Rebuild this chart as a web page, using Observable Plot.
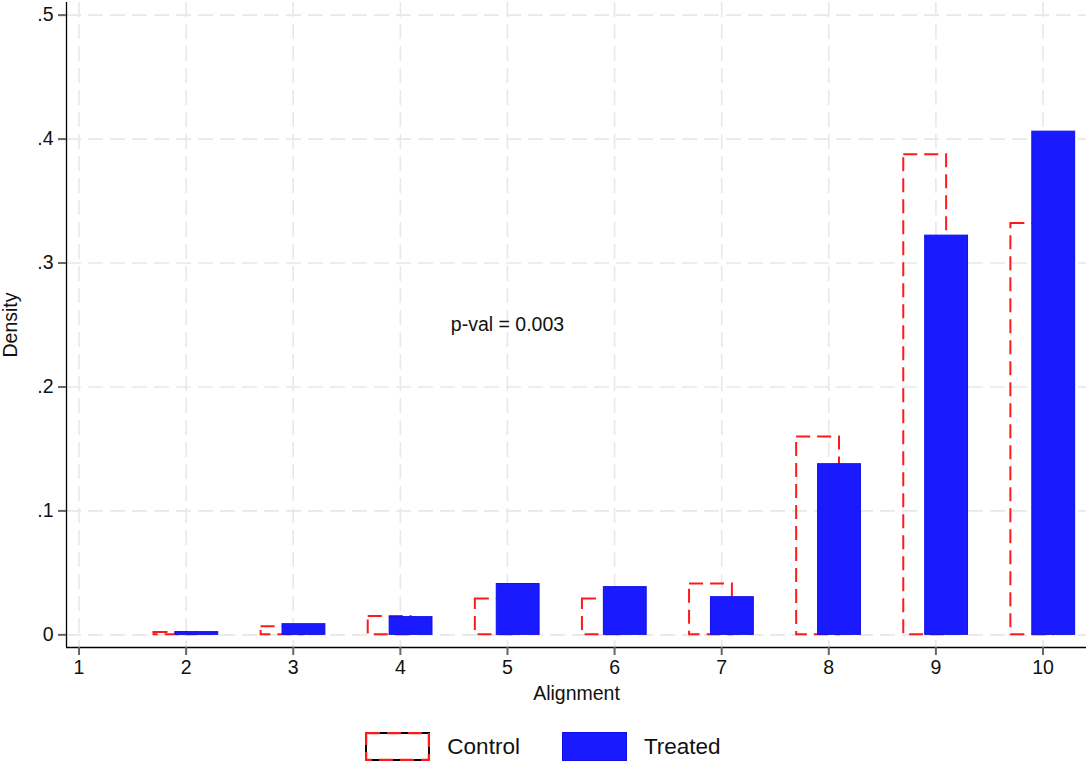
<!DOCTYPE html>
<html>
<head>
<meta charset="utf-8">
<script src="https://cdn.jsdelivr.net/npm/d3@7"></script>
<script src="https://cdn.jsdelivr.net/npm/@observablehq/plot@0.6"></script>
<style>
  body { margin: 0; background: #fff; font-family: "Liberation Sans", Arial, sans-serif; }
  #legend { display: flex; justify-content: center; align-items: center; height: 51px; box-sizing: border-box; padding-top: 12px; font-size: 22.5px; color: #111; }
  #legend .item { display: flex; align-items: center; margin: 0 21px; }
  #legend svg { margin-right: 17px; }
</style>
</head>
<body>
<div id="chart"></div>
<div id="legend"></div>
<script>
const categories = [2, 3, 4, 5, 6, 7, 8, 9, 10];
const controlValues = [0.002, 0.0065, 0.0148, 0.029, 0.029, 0.041, 0.1597, 0.3874, 0.3318];
const treatedValues = [0.0022, 0.0086, 0.0143, 0.041, 0.0385, 0.0304, 0.1377, 0.3221, 0.406];
const xTicks = [1, 2, 3, 4, 5, 6, 7, 8, 9, 10];
const yTicks = [0, 0.1, 0.2, 0.3, 0.4, 0.5];
const annotation = "p-val = 0.003";
const xLabel = "Alignment";
const yLabel = "Density";
const seriesNames = ["Control", "Treated"];

const control = categories.map((c, i) => ({x: c, v: controlValues[i]}));
const treated = categories.map((c, i) => ({x: c, v: treatedValues[i]}));

const xDom = [0.883, 10.406];
const yDom = [-0.0102, 0.5102];
const red = "#ff1a1a";
const blue = "#1a1aff";
const fs = 19.5;

const chart = Plot.plot({
  width: 1086,
  height: 715,
  marginLeft: 66,
  marginRight: 0,
  marginTop: 2,
  marginBottom: 68,
  style: {fontFamily: '"Liberation Sans", Arial, sans-serif', fontSize: fs + "px", color: "#111"},
  x: {domain: xDom, axis: null},
  y: {domain: yDom, axis: null},
  marks: [
    Plot.gridY(yTicks, {stroke: "#e8e8e8", strokeOpacity: 1, strokeWidth: 1.6, strokeDasharray: "15,7"}),
    Plot.gridX(xTicks, {stroke: "#e8e8e8", strokeOpacity: 1, strokeWidth: 1.6, strokeDasharray: "15,7"}),
    Plot.rect(control, {x1: d => d.x - 0.3, x2: d => d.x + 0.1, y1: 0, y2: "v", fill: "none", stroke: red, strokeWidth: 2, strokeDasharray: "14,7"}),
    Plot.rect(treated, {x1: d => d.x - 0.1, x2: d => d.x + 0.3, y1: 0, y2: "v", fill: blue, stroke: "#1010e6", strokeWidth: 1}),
    Plot.text([annotation], {x: 5, y: 0.25, text: d => d, fontSize: fs, fill: "#111"}),
    Plot.ruleX([xDom[0]], {stroke: "#000", strokeWidth: 1.3}),
    Plot.ruleY([yDom[0]], {stroke: "#000", strokeWidth: 1.3}),
    Plot.axisY(yTicks, {anchor: "left", tickSize: 8, tickPadding: 5, stroke: "#666", strokeWidth: 2, fontSize: fs, fill: "#111",
      tickFormat: d => d === 0 ? "0" : String(d).replace(/^0/, ""), label: null}),
    Plot.axisX(xTicks, {anchor: "bottom", tickSize: 8, tickPadding: 5, stroke: "#666", strokeWidth: 2, fontSize: fs, fill: "#111", label: null}),
    Plot.text([xLabel], {frameAnchor: "bottom", dy: 46, text: d => d, fontSize: fs, fill: "#111", textAnchor: "middle", lineAnchor: "middle"}),
    Plot.text([yLabel], {frameAnchor: "left", dx: -56, rotate: -90, text: d => d, fontSize: fs, fill: "#111", textAnchor: "middle", lineAnchor: "middle"})
  ]
});
document.getElementById("chart").appendChild(chart);

const legend = document.getElementById("legend");
legend.innerHTML = `
  <div class="item">
    <svg width="65" height="29"><rect x="1" y="1" width="63" height="27" fill="#fff" stroke="#000" stroke-width="2"/>
    <rect x="1" y="1" width="63" height="27" fill="none" stroke="${red}" stroke-width="2.5" stroke-dasharray="14,7"/></svg>
    <span>${seriesNames[0]}</span>
  </div>
  <div class="item">
    <svg width="65" height="29"><rect x="0.5" y="0.5" width="64" height="28" fill="${blue}" stroke="#1010e6" stroke-width="1"/></svg>
    <span>${seriesNames[1]}</span>
  </div>`;
</script>
</body>
</html>
